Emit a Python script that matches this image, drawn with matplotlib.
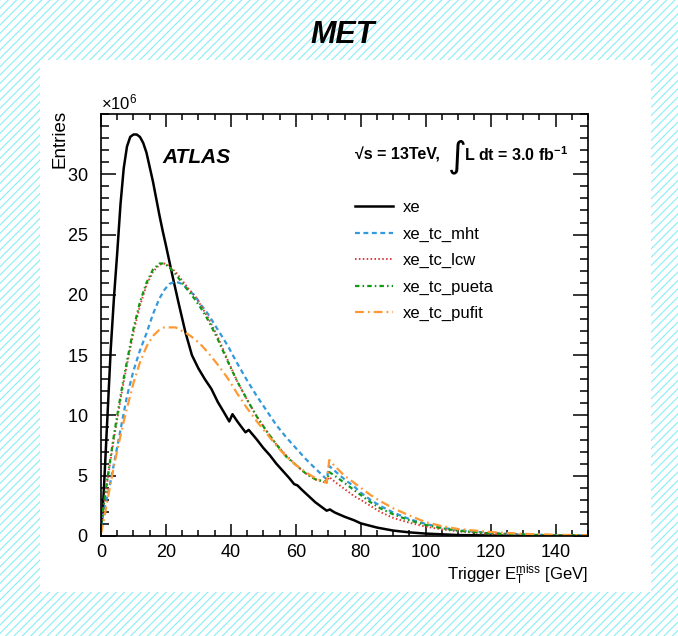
import numpy as np
import matplotlib
matplotlib.use('Agg')
import matplotlib.pyplot as plt
from matplotlib.patches import Rectangle
from matplotlib.ticker import MultipleLocator, FixedLocator, ScalarFormatter

plt.rcParams['font.family'] = ['Liberation Sans', 'DejaVu Sans']
plt.rcParams['mathtext.fontset'] = 'custom'
plt.rcParams['mathtext.rm'] = 'Liberation Sans'
plt.rcParams['mathtext.it'] = 'Liberation Sans:italic'
plt.rcParams['mathtext.bf'] = 'Liberation Sans:bold'
plt.rcParams['hatch.linewidth'] = 0.8

# values in units of 10^6 entries
xe_x = [0, 0.5, 1, 2, 3, 4, 5, 6, 7, 8, 9, 10, 11, 12, 13, 14, 15, 16, 17, 18,
        19, 20, 22, 24, 26, 28, 30, 32, 34, 36, 38, 39.5, 40.5, 42, 44.5, 45.5,
        48, 50, 52, 54, 56, 58, 59.5, 60.5, 62, 64, 66, 68, 69.5, 70.5, 72, 75,
        78, 80, 85, 90, 95, 100, 110, 120, 130, 140, 150]
xe_y = [0.5, 2.0, 4.5, 10.0, 15.5, 19.8, 23.5, 27.5, 30.5, 32.3, 33.1, 33.3,
        33.3, 33.1, 32.6, 31.8, 30.6, 29.4, 28.0, 26.6, 25.3, 24.1, 21.6, 19.2,
        16.9, 15.0, 13.9, 13.0, 12.2, 11.1, 10.2, 9.5, 10.1, 9.5, 8.6, 8.8, 8.0,
        7.3, 6.7, 6.0, 5.4, 4.8, 4.3, 4.2, 3.8, 3.3, 2.8, 2.4, 2.1, 2.2, 1.95,
        1.6, 1.3, 1.05, 0.7, 0.45, 0.3, 0.2, 0.08, 0.04, 0.02, 0.01, 0.005]

tc_x = [0, 1, 2, 3, 4, 5, 6, 7, 8, 10, 12, 14, 16, 18, 19.5, 21, 23, 25, 27,
        29, 31, 33, 36, 39, 42, 45, 48, 51, 54, 57, 60, 63, 66, 69.5, 70.3, 72,
        75, 78, 80, 83, 86, 90, 95, 100, 105, 110, 120, 130, 140, 150]
mht_y = [0.8, 2.2, 3.4, 4.6, 6.0, 7.4, 8.8, 10.2, 11.6, 13.7, 15.4, 16.8, 18.4,
         19.7, 20.4, 20.9, 21.1, 20.9, 20.4, 19.9, 19.1, 18.4, 17.1, 15.8, 14.3,
         12.9, 11.6, 10.4, 9.2, 8.2, 7.3, 6.4, 5.6, 4.7, 5.8, 5.4, 4.7, 4.1,
         3.6, 3.0, 2.5, 1.95, 1.4, 1.0, 0.7, 0.48, 0.24, 0.13, 0.07, 0.04]
lcw_y = [1.0, 2.8, 4.6, 6.4, 8.1, 9.7, 11.3, 12.8, 14.2, 16.9, 19.1, 20.8,
         21.9, 22.5, 22.6, 22.4, 21.9, 21.2, 20.5, 19.9, 19.0, 18.1, 16.5, 14.6,
         12.8, 11.3, 9.9, 8.7, 7.6, 6.7, 5.9, 5.2, 4.7, 4.4, 4.9, 4.5, 3.9, 3.3,
         3.0, 2.5, 2.0, 1.5, 1.1, 0.78, 0.55, 0.38, 0.18, 0.1, 0.05, 0.03]
pueta_y = [1.0, 2.9, 4.8, 6.6, 8.4, 10.0, 11.6, 13.1, 14.5, 17.2, 19.4, 21.0,
           22.1, 22.6, 22.6, 22.3, 21.7, 21.0, 20.3, 19.6, 18.8, 17.9, 16.3,
           14.5, 12.8, 11.3, 9.9, 8.7, 7.6, 6.6, 5.9, 5.2, 4.7, 4.5, 5.3, 5.0,
           4.4, 3.8, 3.4, 2.8, 2.3, 1.8, 1.3, 0.92, 0.64, 0.44, 0.21, 0.11,
           0.06, 0.04]
pufit_y = [0.2, 1.5, 3.0, 4.4, 5.8, 7.1, 8.3, 9.5, 10.6, 12.7, 14.4, 15.7,
           16.6, 17.1, 17.3, 17.3, 17.3, 17.0, 16.7, 16.3, 15.8, 15.2, 14.2,
           13.1, 11.8, 10.6, 9.5, 8.5, 7.5, 6.6, 5.9, 5.3, 4.8, 4.4, 6.3, 5.8,
           5.0, 4.4, 4.0, 3.4, 2.9, 2.3, 1.7, 1.15, 0.82, 0.58, 0.33, 0.18, 0.1,
           0.06]

y_ticks = [0, 5, 10, 15, 20, 25, 30]
labels = ['xe', 'xe_tc_mht', 'xe_tc_lcw', 'xe_tc_pueta', 'xe_tc_pufit']
colors = ['black', '#3399dd', '#e03a3a', '#119911', '#ff9933']

fig = plt.figure(figsize=(6.78, 6.36), dpi=100)
fig.patch.set_facecolor('white')

# hatched cyan frame with a white inner pad
fig.patches.append(Rectangle((0, 0), 1, 1, transform=fig.transFigure,
                             facecolor='white', edgecolor='#88eef5',
                             hatch='////', linewidth=0, zorder=-2))
fig.patches.append(Rectangle((40/678, 1-592/636), 611/678, 532/636,
                             transform=fig.transFigure, facecolor='white',
                             edgecolor='none', zorder=-1))

fig.text(0.505, 1-35/636, 'MET', ha='center', va='center', fontsize=22,
         fontweight='bold', fontstyle='italic')

ax = fig.add_axes([101/678, 1-536/636, 487/678, 422/636])

m = 1e6
ax.plot(xe_x, np.array(xe_y)*m, color=colors[0], lw=1.8, ls='-', label=labels[0])
ax.plot(tc_x, np.array(mht_y)*m, color=colors[1], lw=1.6, ls=(0, (2.2, 1.6)), label=labels[1])
ax.plot(tc_x, np.array(lcw_y)*m, color=colors[2], lw=1.4, ls=(0, (0.8, 1.2)), label=labels[2])
ax.plot(tc_x, np.array(pueta_y)*m, color=colors[3], lw=1.6, ls=(0, (2.0, 1.4, 0.7, 1.4)), label=labels[3])
ax.plot(tc_x, np.array(pufit_y)*m, color=colors[4], lw=1.6, ls=(0, (4.0, 1.8, 0.8, 1.8)), label=labels[4])

ax.set_xlim(0, 150)
ax.set_ylim(0, 35e6)
ax.xaxis.set_major_locator(MultipleLocator(20))
ax.xaxis.set_minor_locator(MultipleLocator(5))
ax.yaxis.set_major_locator(FixedLocator([t*m for t in y_ticks]))
ax.yaxis.set_minor_locator(MultipleLocator(1e6))
fmt = ScalarFormatter(useMathText=True)
fmt.set_powerlimits((6, 6))
ax.yaxis.set_major_formatter(fmt)
ax.yaxis.get_offset_text().set_fontsize(12)

ax.tick_params(which='both', direction='in', top=True, right=True, width=1.1,
               labelsize=13)
ax.tick_params(axis='x', which='major', length=9, pad=6)
ax.tick_params(axis='x', which='minor', length=4.5)
ax.tick_params(axis='y', which='major', length=11, pad=9)
ax.tick_params(axis='y', which='minor', length=5.5)
for s in ax.spines.values():
    s.set_linewidth(1.2)

ax.set_xlabel(r'Trigger E$_{\mathrm{T}}^{\mathrm{miss}}$ [GeV]', loc='right',
              fontsize=12, labelpad=1)
ax.set_ylabel('Entries', loc='top', fontsize=13.5)
ax.yaxis.set_label_coords(-0.066, 1.01)

ax.text(0.127, 0.898, 'ATLAS', transform=ax.transAxes, fontsize=15,
        fontweight='bold', fontstyle='italic', va='center')
ax.text(0.522, 0.903, '√s = 13TeV,', transform=ax.transAxes, fontsize=11.5,
        fontweight='bold', va='center')
ax.text(0.712, 0.900, '∫', transform=ax.transAxes, fontsize=26,
        va='center', family='DejaVu Sans')
ax.text(0.745, 0.903, r'L dt = 3.0 fb$^{\mathbf{-1}}$', transform=ax.transAxes,
        fontsize=11.5, fontweight='bold', va='center')

ax.legend(loc='upper left', bbox_to_anchor=(0.522, 0.796), frameon=False,
          fontsize=12, handlelength=2.28, handletextpad=0.6, labelspacing=0.68,
          borderpad=0, borderaxespad=0)

fig.savefig('out.png', dpi=100)
